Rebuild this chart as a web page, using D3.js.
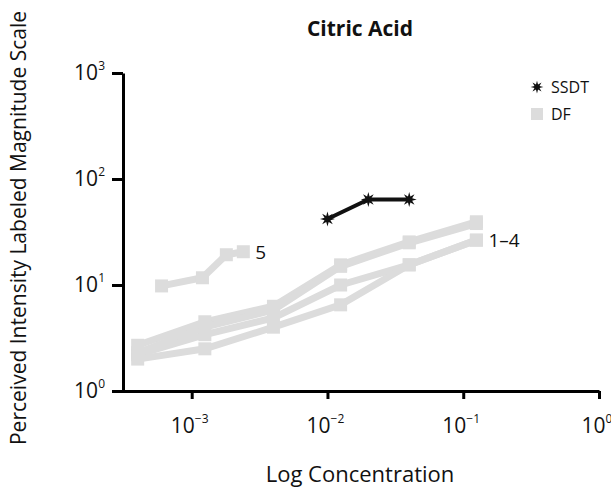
<!DOCTYPE html>
<html>
<head>
<meta charset="utf-8">
<script src="https://cdn.jsdelivr.net/npm/d3@7"></script>
<style>
  body { margin: 0; background: #fff; }
  text { font-family: "Open Sans", "Noto Sans", sans-serif; fill: #111; }
</style>
</head>
<body>
<div id="chart"></div>
<script>
// values (concentration in M, ratings on gLMS)
const dfConc = [0.0004, 0.00125, 0.004, 0.0125, 0.04, 0.125];
const df1 = [2.7, 4.5, 6.3, 15.5, 25.5, 39.5];
const df2 = [2.3, 4.0, 5.8, 15, 25, 38];
const df3 = [2.2, 3.4, 4.9, 10, 15.5, 26.5];
const df4 = [2.0, 2.5, 4.0, 6.5, 15.5, 26.5];
const df5Conc = [0.0006, 0.0012, 0.0018, 0.0024];
const df5 = [9.8, 11.7, 19.3, 20.6];
const ssdtConc = [0.01, 0.02, 0.04];
const ssdt = [42, 64, 64];
const xExps = [-3, -2, -1, 0];
const yExps = [0, 1, 2, 3];

const W = 611, H = 489;
const grey = "#dcdcdc";

const svg = d3.select("#chart").append("svg")
    .attr("width", W)
    .attr("height", H);

// log scales, one decade ~136px on x and ~106px on y
const x = d3.scaleLog().domain([Math.pow(10, -3.587), 1]).range([112, 599]);
const y = d3.scaleLog().domain([1, 1000]).range([391, 73]);

// 8 point star marker used for SSDT
const star = d3.lineRadial()
    .angle(d => d[0])
    .radius(d => d[1])
    .curve(d3.curveLinearClosed)(d3.range(16).map(i => [i * Math.PI / 8, i % 2 ? 3.2 : 7.5]));

// axes
svg.append("g")
    .attr("transform", "translate(123,0)")
    .call(d3.axisLeft(y).tickValues(yExps.map(e => Math.pow(10, e))).tickSize(11).tickSizeOuter(0).tickFormat(""));
svg.append("g")
    .attr("transform", "translate(0,391)")
    .call(d3.axisBottom(x).tickValues(xExps.map(e => Math.pow(10, e))).tickSize(8).tickSizeOuter(0).tickFormat(""));
svg.selectAll(".domain, .tick line").attr("stroke", "#000").attr("stroke-width", 3);

// tick labels with superscripts
yExps.forEach(e => {
    const t = svg.append("text")
        .attr("x", 105)
        .attr("y", y(Math.pow(10, e)) + 7)
        .attr("text-anchor", "end")
        .style("font-size", "21px");
    t.append("tspan").text("10");
    t.append("tspan").attr("dy", -10).style("font-size", "12px").text(e);
});
xExps.forEach(e => {
    const t = svg.append("text")
        .attr("x", x(Math.pow(10, e)) - 2)
        .attr("y", 433)
        .attr("text-anchor", "middle")
        .style("font-size", "21px");
    t.append("tspan").text("10");
    t.append("tspan").attr("dy", -10).style("font-size", "12px").text(e === 0 ? "0" : "\u2212" + (-e));
});

// DF lines
const line = d3.line().x(d => x(d[0])).y(d => y(d[1]));
const dfSeries = [df1, df2, df3, df4].map(s => d3.zip(dfConc, s));
dfSeries.push(d3.zip(df5Conc, df5));

svg.append("g").selectAll("path")
    .data(dfSeries)
    .enter().append("path")
    .attr("d", line)
    .attr("fill", "none")
    .attr("stroke", grey)
    .attr("stroke-width", 7);

svg.append("g").selectAll("rect")
    .data(dfSeries.flat())
    .enter().append("rect")
    .attr("x", d => x(d[0]) - 6.5)
    .attr("y", d => y(d[1]) - 6.5)
    .attr("width", 13)
    .attr("height", 13)
    .attr("fill", grey);

// SSDT line
const ssdtPts = d3.zip(ssdtConc, ssdt);
svg.append("path")
    .datum(ssdtPts)
    .attr("d", line)
    .attr("fill", "none")
    .attr("stroke", "#111")
    .attr("stroke-width", 4);
svg.append("g").selectAll("path")
    .data(ssdtPts)
    .enter().append("path")
    .attr("d", star)
    .attr("transform", d => `translate(${x(d[0])},${y(d[1])})`)
    .attr("fill", "#111");

// series labels
svg.append("text")
    .attr("x", x(df5Conc[3]) + 12)
    .attr("y", y(df5[3]) + 7)
    .style("font-size", "19px")
    .text("5");
svg.append("text")
    .attr("x", x(dfConc[5]) + 12)
    .attr("y", y(df4[5]) + 7)
    .style("font-size", "19px")
    .text("1\u20134");

// legend
const legend = svg.append("g").attr("transform", "translate(537,87)");
legend.append("path").attr("d", star).attr("fill", "#111").attr("transform", "scale(0.85)");
legend.append("text").attr("x", 14).attr("y", 6).style("font-size", "16px").text("SSDT");
legend.append("rect").attr("x", -6).attr("y", 21).attr("width", 12).attr("height", 12).attr("fill", grey);
legend.append("text").attr("x", 14).attr("y", 33).style("font-size", "16px").text("DF");

// title
svg.append("text")
    .attr("x", 360)
    .attr("y", 36)
    .attr("text-anchor", "middle")
    .style("font-size", "21px")
    .style("font-weight", "bold")
    .text("Citric Acid");

// axis titles
svg.append("text")
    .attr("x", 360)
    .attr("y", 482)
    .attr("text-anchor", "middle")
    .style("font-size", "22px")
    .text("Log Concentration");
svg.append("text")
    .attr("transform", "rotate(-90)")
    .attr("x", -228)
    .attr("y", 26)
    .attr("text-anchor", "middle")
    .style("font-size", "21px")
    .text("Perceived Intensity Labeled Magnitude Scale");
</script>
</body>
</html>
